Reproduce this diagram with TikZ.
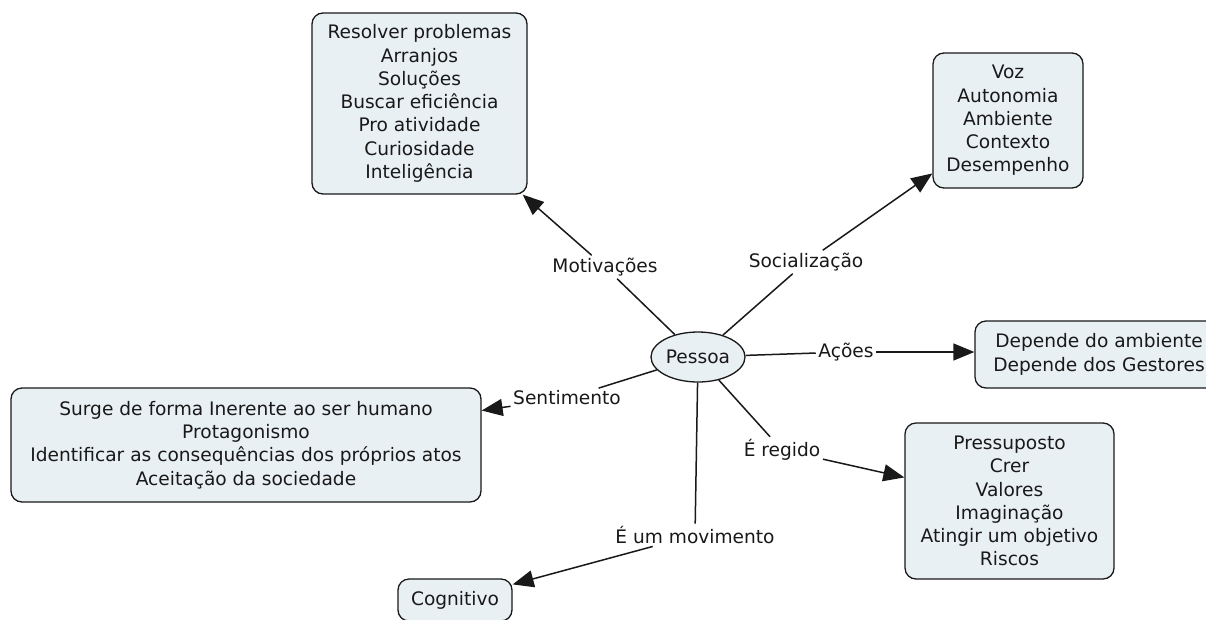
\documentclass[tikz,border=0pt]{standalone}
\usepackage{fontspec}
\setmainfont{DejaVu Sans}
\usetikzlibrary{shapes.geometric,arrows.meta}
\definecolor{boxfill}{RGB}{233,240,244}
\definecolor{ink}{RGB}{25,25,25}
\tikzset{
  txt/.style={font=\fontsize{18.6}{23.3}\selectfont, text=ink},
  concept/.style={txt, draw=ink, line width=1.3pt, fill=boxfill, rounded corners=11pt, align=center, inner sep=0pt},
  central/.style={txt, ellipse, draw=ink, line width=1.3pt, fill=boxfill, minimum width=94pt, minimum height=50pt, inner sep=0pt},
  linklabel/.style={txt, inner sep=2.5pt},
  link/.style={draw=ink, line width=1.5pt},
  linkarrow/.style={link, -{Triangle[length=21pt,width=17pt]}},
}
\begin{document}
\begin{tikzpicture}[x=1pt,y=-1pt]
\useasboundingbox (0,0) rectangle (1206,619);
\clip (0,0) rectangle (1206,619);
\fill[white] (0,0) rectangle (1206,619);

% concepts
\node[concept, minimum width=215pt, minimum height=181pt] (mot) at (419.5,103.5)
  {Resolver problemas\\Arranjos\\Soluções\\Buscar eficiência\\Pro atividade\\Curiosidade\\Inteligência};
\node[concept, minimum width=150pt, minimum height=135pt] (soc) at (1008,120.5)
  {Voz\\Autonomia\\Ambiente\\Contexto\\Desempenho};
\node[concept, minimum width=248pt, minimum height=67pt] (aco) at (1099,354.5)
  {Depende do ambiente\\Depende dos Gestores};
\node[concept, minimum width=470pt, minimum height=114pt] (sen) at (246,445)
  {Surge de forma Inerente ao ser humano\\Protagonismo\\Identificar as consequências dos próprios atos\\Aceitação da sociedade};
\node[concept, minimum width=209pt, minimum height=156pt] (reg) at (1009.5,501)
  {Pressuposto\\Crer\\Valores\\Imaginação\\Atingir um objetivo\\Riscos};
\node[concept, minimum width=114pt, minimum height=42pt] (cog) at (455,600)
  {Cognitivo};
\node[central] (p) at (698,357) {Pessoa};

% link labels
\node[linklabel] (lmot) at (605,267) {Motivações};
\node[linklabel] (lsoc) at (806,262) {Socialização};
\node[linklabel] (laco) at (846,352) {Ações};
\node[linklabel] (lsen) at (567,398) {Sentimento};
\node[linklabel] (lreg) at (782,450) {É regido};
\node[linklabel] (lmov) at (695,535) {É um movimento};

% connectors
\draw[link] (p) -- (lmot);
\draw[linkarrow] (lmot) -- (mot);
\draw[link] (p) -- (lsoc);
\draw[linkarrow] (lsoc) -- (soc);
\draw[link] (p) -- (laco);
\draw[linkarrow] (laco.east) -- (laco.east -| aco.west);
\draw[link] (p) -- (lsen);
\draw[linkarrow] (lsen) -- (sen);
\draw[link] (p) -- (lreg);
\draw[linkarrow] (lreg) -- (reg);
\draw[link] (p) -- (lmov);
\draw[linkarrow] (lmov) -- (cog);
\end{tikzpicture}
\end{document}
